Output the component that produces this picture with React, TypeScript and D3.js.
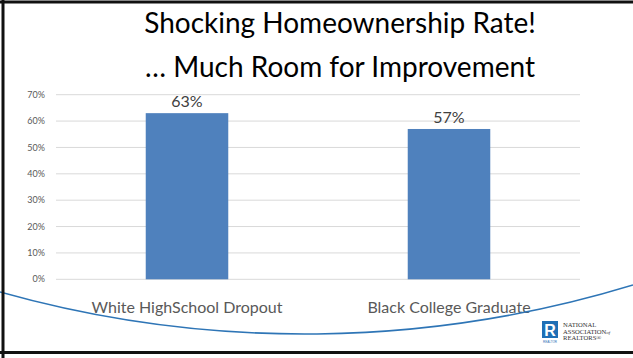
import React from "react";
import * as d3 from "d3";

const categories = ["White HighSchool Dropout", "Black College Graduate"];
const values = [0.63, 0.57];
const valueLabels = ["63%", "57%"];
const yTicks = [0, 0.1, 0.2, 0.3, 0.4, 0.5, 0.6, 0.7];
const titleLines = ["Shocking Homeownership Rate!", "… Much Room for Improvement"];

const W = 633;
const H = 358;
const FONT = "Lato, 'Open Sans', sans-serif";

export default function App() {
  const x = d3
    .scaleBand<string>()
    .domain(categories)
    .range([56, 580])
    .paddingInner(0.685)
    .paddingOuter(0.3425);
  const y = d3.scaleLinear().domain([0, 0.7]).range([279.3, 94.7]);
  const fmt = d3.format(".0%");

  return (
    <svg
      width={W}
      height={H}
      style={{ position: "absolute", left: 0, top: 0, display: "block", background: "#fff" }}
    >
      <rect x={0} y={0} width={W} height={H} fill="#fff" />
      {/* title */}
      {titleLines.map((t, i) => (
        <text
          key={i}
          x={340}
          y={33 + i * 44}
          textAnchor="middle"
          fontFamily={FONT}
          fontSize={28}
          fill="#000"
        >
          {t}
        </text>
      ))}
      {/* gridlines */}
      {yTicks.map((t) => (
        <g key={t}>
          <line x1={56} x2={580} y1={y(t)} y2={y(t)} stroke="#d9d9d9" strokeWidth={1} />
          <text
            x={45}
            y={y(t)}
            dy="0.35em"
            textAnchor="end"
            fontFamily={FONT}
            fontSize={9}
            fill="#595959"
          >
            {fmt(t)}
          </text>
        </g>
      ))}
      {/* bars */}
      {categories.map((c, i) => (
        <g key={c}>
          <rect
            x={x(c)!}
            y={y(values[i])}
            width={x.bandwidth()}
            height={y(0) - y(values[i])}
            fill="#4F81BD"
          />
          <text
            x={x(c)! + x.bandwidth() / 2}
            y={y(values[i]) - 6}
            textAnchor="middle"
            fontFamily={FONT}
            fontSize={16}
            fill="#404040"
          >
            {valueLabels[i]}
          </text>
          <text
            x={x(c)! + x.bandwidth() / 2}
            y={313}
            textAnchor="middle"
            fontFamily={FONT}
            fontSize={16}
            fill="#595959"
          >
            {c}
          </text>
        </g>
      ))}
      {/* decorative arc */}
      <path d="M 0 292 A 1125 1125 0 0 0 633 285" fill="none" stroke="#2E75B6" strokeWidth={1.6} />
      {/* logo */}
      <rect x={542} y={321} width={16} height={17} fill="#1F6FB5" />
      <text x={550} y={336} textAnchor="middle" fontFamily="'Liberation Sans', sans-serif" fontWeight="bold" fontSize={16} fill="#fff">
        R
      </text>
      <text x={550} y={342.5} textAnchor="middle" fontFamily="'Liberation Sans', sans-serif" fontSize={3} fill="#1F6FB5">
        REALTOR
      </text>
      <g fontFamily="'Liberation Serif', 'DejaVu Serif', serif" fontSize={6.6} fill="#333">
        <text x={563} y={327}>NATIONAL</text>
        <text x={563} y={333.5}>
          ASSOCIATION<tspan fontStyle="italic" fontSize={5}>of</tspan>
        </text>
        <text x={563} y={340}>REALTORS®</text>
      </g>
      {/* border */}
      <line x1={0} x2={W} y1={2} y2={2} stroke="#111" strokeWidth={3} />
      <line x1={3} x2={3} y1={0} y2={H} stroke="#111" strokeWidth={3} />
      <line x1={0} x2={W} y1={352.5} y2={352.5} stroke="#111" strokeWidth={3} />
    </svg>
  );
}
